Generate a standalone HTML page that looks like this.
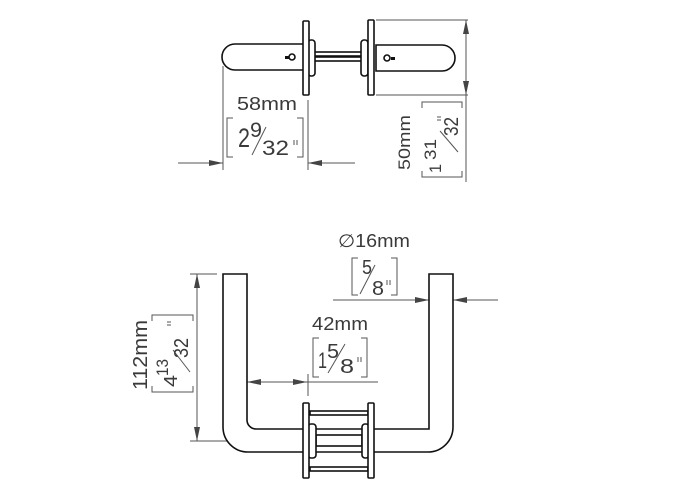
<!DOCTYPE html>
<html><head><style>body{margin:0;background:#fff}svg{display:block}text{font-family:"Liberation Sans",sans-serif;fill:#3a3a3a}</style></head>
<body>
<svg width="678" height="480" viewBox="0 0 678 480">
<defs>
<marker id="a" viewBox="0 0 14 6" refX="14" refY="3" markerWidth="14" markerHeight="6" markerUnits="userSpaceOnUse" orient="auto"><path d="M0,0L14,3L0,6z" fill="#444"/></marker>
</defs>
<g fill="none" stroke="#555" stroke-width="1">
<line x1="223" y1="66" x2="223" y2="170"/>
<line x1="308" y1="100" x2="308" y2="170"/>
<line x1="178" y1="163" x2="223" y2="163" marker-end="url(#a)"/>
<line x1="355" y1="163" x2="308" y2="163" marker-end="url(#a)"/>
<line x1="376" y1="20" x2="468" y2="20"/>
<line x1="376" y1="95" x2="468" y2="95"/>
<line x1="466" y1="182" x2="466" y2="95"/>
<line x1="466" y1="58" x2="466" y2="20" marker-end="url(#a)"/>
<line x1="466" y1="58" x2="466" y2="95" marker-end="url(#a)"/>
<path d="M233,118h-6v39h6M297,118h6v39h-6"/>
<path d="M422,108v-6h40v6M422,171v6h40v-6"/>
<line x1="252" y1="155" x2="266" y2="127"/>
<line x1="294" y1="140" x2="294" y2="145"/><line x1="297" y1="140" x2="297" y2="145"/>
<line x1="458" y1="152" x2="440" y2="131"/>
<line x1="437" y1="117" x2="441" y2="117"/><line x1="437" y1="120" x2="441" y2="120"/>
<line x1="190" y1="274" x2="217" y2="274"/>
<line x1="190" y1="441" x2="245" y2="441"/>
<line x1="197" y1="357" x2="197" y2="274" marker-end="url(#a)"/>
<line x1="197" y1="357" x2="197" y2="441" marker-end="url(#a)"/>
<path d="M152,321v-6h41v6M152,386v6h41v-6"/>
<line x1="190" y1="372" x2="173" y2="350"/>
<line x1="167" y1="322" x2="171" y2="322"/><line x1="167" y1="325" x2="171" y2="325"/>
<line x1="333" y1="300" x2="429" y2="300" marker-end="url(#a)"/>
<line x1="498" y1="300" x2="453" y2="300" marker-end="url(#a)"/>
<path d="M358,258h-6v37h6M391,258h6v37h-6"/>
<line x1="360" y1="294" x2="375" y2="265"/>
<line x1="387" y1="280" x2="387" y2="285"/><line x1="390" y1="280" x2="390" y2="285"/>
<line x1="277" y1="382" x2="247" y2="382" marker-end="url(#a)"/>
<line x1="277" y1="382" x2="307" y2="382" marker-end="url(#a)"/>
<line x1="307" y1="382" x2="378" y2="382"/>
<line x1="308" y1="374" x2="308" y2="396"/>
<path d="M319,338h-6v39h6M361,338h6v39h-6"/>
<line x1="328" y1="373" x2="345" y2="344"/>
<line x1="358" y1="357" x2="358" y2="362"/><line x1="361" y1="357" x2="361" y2="362"/>
</g>
<g fill="#fff" stroke="#111" stroke-width="1.6">
<path d="M305,44H235a13,13 0 0 0 0,26H305z"/>
<path d="M376,45H442a13,13 0 0 1 0,26H376z"/>
<rect x="314" y="52" width="48" height="4"/>
<rect x="314" y="57" width="48" height="4"/>
<rect x="308" y="40" width="7" height="36" rx="3"/>
<rect x="361" y="40" width="7" height="36" rx="3"/>
<rect x="303" y="21" width="6" height="74" rx="1"/>
<rect x="368" y="20" width="6" height="75" rx="1"/>
<circle cx="292" cy="57" r="3"/>
<circle cx="387" cy="58" r="3"/>
<path d="M223,274H247V420a9,9 0 0 0 9,9H429V274H453V427a25,25 0 0 1 -25,25H248a25,25 0 0 1 -25,-25z"/>
<rect x="310" y="411" width="58" height="4"/>
<rect x="310" y="467" width="58" height="4"/>
<rect x="316" y="435" width="46" height="11"/>
<rect x="308" y="424" width="8" height="34" rx="3"/>
<rect x="362" y="424" width="7" height="34" rx="3"/>
<rect x="303" y="403" width="6" height="75" rx="1"/>
<rect x="368" y="403" width="6" height="75" rx="1"/>
</g>
<g fill="#111"><rect x="285" y="56" width="4" height="3"/><rect x="391" y="57" width="4" height="3"/></g>
<text x="237" y="110" font-size="18" textLength="60" lengthAdjust="spacingAndGlyphs">58mm</text>
<text x="238" y="147" font-size="27" textLength="12" lengthAdjust="spacingAndGlyphs">2</text>
<text x="250" y="137" font-size="21" textLength="12" lengthAdjust="spacingAndGlyphs">9</text>
<text x="262" y="155" font-size="21" textLength="27" lengthAdjust="spacingAndGlyphs">32</text>
<text transform="translate(410,170) rotate(-90)" font-size="17" textLength="55" lengthAdjust="spacingAndGlyphs">50mm</text>
<text transform="translate(441,173) rotate(-90)" font-size="17" textLength="9" lengthAdjust="spacingAndGlyphs">1</text>
<text transform="translate(436,160) rotate(-90)" font-size="17" textLength="21" lengthAdjust="spacingAndGlyphs">31</text>
<text transform="translate(458,136) rotate(-90)" font-size="20" textLength="19" lengthAdjust="spacingAndGlyphs">32</text>
<text x="338" y="247" font-size="18" textLength="72" lengthAdjust="spacingAndGlyphs">∅16mm</text>
<text x="362" y="274" font-size="20" textLength="10" lengthAdjust="spacingAndGlyphs">5</text>
<text x="372" y="295" font-size="20" textLength="12" lengthAdjust="spacingAndGlyphs">8</text>
<text transform="translate(147,390) rotate(-90)" font-size="20" textLength="70" lengthAdjust="spacingAndGlyphs">112mm</text>
<text transform="translate(177,387) rotate(-90)" font-size="18" textLength="12" lengthAdjust="spacingAndGlyphs">4</text>
<text transform="translate(168,376) rotate(-90)" font-size="17" textLength="17" lengthAdjust="spacingAndGlyphs">13</text>
<text transform="translate(188,358) rotate(-90)" font-size="20" textLength="20" lengthAdjust="spacingAndGlyphs">32</text>
<text x="312" y="330" font-size="18" textLength="56" lengthAdjust="spacingAndGlyphs">42mm</text>
<text x="318" y="368" font-size="22" textLength="9" lengthAdjust="spacingAndGlyphs">1</text>
<text x="327" y="358" font-size="20" textLength="12" lengthAdjust="spacingAndGlyphs">5</text>
<text x="340" y="373" font-size="20" textLength="14" lengthAdjust="spacingAndGlyphs">8</text>
</svg>
</body></html>
